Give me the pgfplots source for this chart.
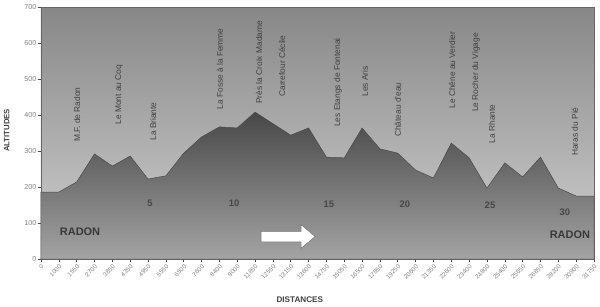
\documentclass[border=0pt]{standalone}
\usepackage{fontspec}
\setmainfont{Liberation Sans}
\usepackage{pgfplots}
\usepackage{pgfplotstable}
\pgfplotsset{compat=1.18}
\usetikzlibrary{shapes.arrows}

\pgfplotstableread{
i alt
0 186
1 186
2 214
3 292
4 258
5 286
6 222
7 231
8 294
9 339
10 367
11 364
12 408
13 376
14 344
15 364
16 283
17 281
18 364
19 306
20 294
21 247
22 225
23 322
24 281
25 197
26 267
27 228
28 283
29 197
30 175
31 175
}\profile

\begin{document}
\begin{tikzpicture}
\begin{axis}[
  at={(0,0)}, anchor=south west,
  scale only axis, width=553bp, height=252bp,
  xmin=0, xmax=31, ymin=0, ymax=700,
  xtick={0,...,31},
  xticklabels={0,1000,1550,2700,3850,4350,4950,5550,6500,7600,8400,9000,11850,12550,13150,13600,14750,15050,16500,17850,19250,20600,21350,22600,23400,24800,25400,25650,26850,28200,30900,31750},
  ytick={0,100,...,700},
  tick align=outside, major tick length=3bp,
  xtick pos=bottom, ytick pos=left,
  tick style={black!70, line width=0.6bp},
  axis line style={black!60, line width=0.6bp},
  /pgf/number format/assume math mode=true,
  x tick label style={rotate=45, anchor=north east, font=\fontsize{6.3}{7}\selectfont, text=black!50, inner sep=1.5bp},
  y tick label style={font=\fontsize{7.2}{8}\selectfont, text=black!50, inner sep=1.5bp},
  xlabel={\textbf{DISTANCES}},
  xlabel style={at={(axis description cs:0.468,-0.163)}, anchor=center, font=\fontsize{8.2}{9}\selectfont, text=black!75},
  ylabel={\textbf{ALTITUDES}},
  ylabel style={at={(axis description cs:-0.062,0.51)}, anchor=center, rotate=0, font=\fontsize{7.8}{9}\selectfont, text=black!75},
  axis background/.style={top color=black!47, middle color=black!14, bottom color=black!18},
  clip=false,
]
\addplot[draw=black!70, line width=0.5bp, top color=black!72, bottom color=black!36] table[x=i, y=alt]{\profile} \closedcycle;

\begin{scope}[every node/.style={rotate=90, font=\fontsize{8.4}{10}\selectfont, text=black!75}]
\node at (axis cs:2.02,401) {M.F. de Radon};
\node at (axis cs:4.37,457) {Le Mont au Coq};
\node at (axis cs:6.28,382) {La Briante};
\node at (axis cs:10.03,528) {La Fosse à la Femme};
\node at (axis cs:12.22,546) {Près la Croix Madame};
\node at (axis cs:13.51,536) {Carrefour Cécile};
\node at (axis cs:16.65,490) {Les Etangs de Fontenai};
\node at (axis cs:18.16,493) {Les Aris};
\node at (axis cs:20.01,415) {Château d'eau};
\node at (axis cs:23.04,525) {Le Chêne au Verdier};
\node at (axis cs:24.38,518) {Le Rocher du Vigage};
\node at (axis cs:25.28,375) {La Rhante};
\node at (axis cs:29.93,354) {Haras du Pié};
\end{scope}

\begin{scope}[every node/.style={font=\bfseries\fontsize{9.5}{11}\selectfont, text=black!72}]
\node at (axis cs:6.11,156) {5};
\node at (axis cs:10.82,156) {10};
\node at (axis cs:16.14,153) {15};
\node at (axis cs:20.40,153) {20};
\node at (axis cs:25.17,150) {25};
\node at (axis cs:29.37,131) {30};
\end{scope}

\node[font=\bfseries\fontsize{11}{13}\selectfont, text=black!78] at (axis cs:2.19,75) {RADON};
\node[font=\bfseries\fontsize{11}{13}\selectfont, text=black!78] at (axis cs:29.65,67) {RADON};

\node[single arrow, fill=white, draw=black!55, line width=0.5bp,
      minimum height=54bp, minimum width=23bp, inner sep=5bp,
      single arrow tip angle=80, single arrow head extend=6.5bp]
      at (axis cs:13.68,62.5) {};
\end{axis}
\pgfresetboundingbox
\useasboundingbox (-41bp,-48bp) rectangle (559bp,259bp);
\end{tikzpicture}
\end{document}
